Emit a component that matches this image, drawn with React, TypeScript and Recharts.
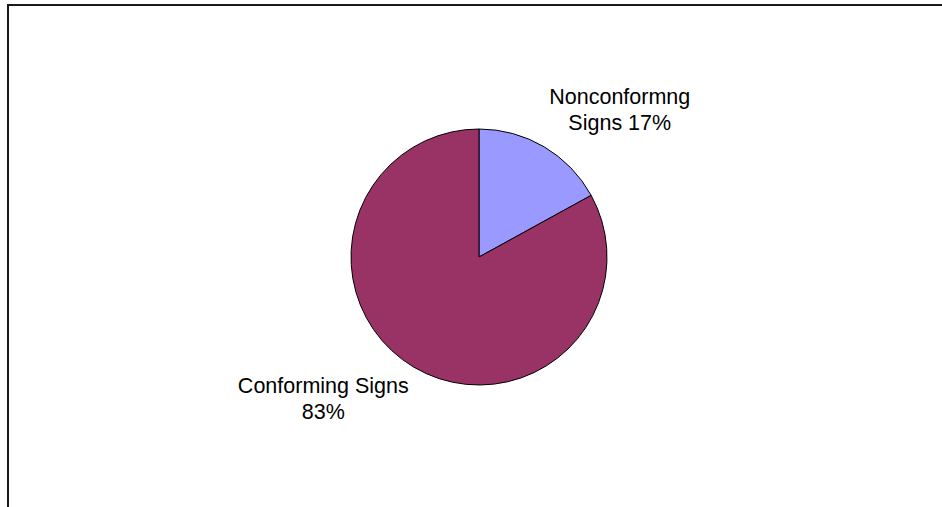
import React from "react";
import { PieChart, Pie, Cell } from "recharts";

const categories = ["Nonconformng Signs", "Conforming Signs"];
const values = [17, 83];
const labelFirstLines = ["Nonconformng", "Conforming Signs"];
const labelSecondPrefix = ["Signs ", ""];
const colors = ["#9999FF", "#993366"];

const data = categories.map((name, i) => ({ name, value: values[i] }));

const RAD = Math.PI / 180;
const FONT_SIZE = 21.5;
const FONT_FAMILY = "'Liberation Sans', Arial, sans-serif";
const LINE_GAP = 26;

let measureCtx: CanvasRenderingContext2D | null = null;
const measure = (s: string) => {
  if (!measureCtx) {
    const c = document.createElement("canvas");
    measureCtx = c.getContext("2d");
  }
  if (!measureCtx) return s.length * FONT_SIZE * 0.55;
  measureCtx.font = `${FONT_SIZE}px ${FONT_FAMILY}`;
  return measureCtx.measureText(s).width;
};

const renderLabel = (props: any) => {
  const { cx, cy, midAngle, outerRadius, percent, index } = props;
  const R = outerRadius + 10;
  const cos = Math.cos(-midAngle * RAD);
  const sin = Math.sin(-midAngle * RAD);
  const ax = cx + R * cos;
  const ay = cy + R * sin;
  const pct = Math.round(percent * 100) + "%";
  const l1 = labelFirstLines[index];
  const l2 = labelSecondPrefix[index] + pct;
  const w = Math.max(measure(l1), measure(l2));
  const x = cos >= 0 ? ax + w / 2 : ax - w / 2;
  const y1 = sin < 0 ? ay - 8 - LINE_GAP : ay + 17;
  return (
    <text
      x={x}
      y={y1}
      textAnchor="middle"
      fill="#000"
      fontFamily={FONT_FAMILY}
      fontSize={FONT_SIZE}
    >
      <tspan x={x} y={y1}>{l1}</tspan>
      <tspan x={x} y={y1 + LINE_GAP}>{l2}</tspan>
    </text>
  );
};

export default function App() {
  return (
    <div style={{ position: "absolute", left: 0, top: 0, width: 942, height: 507, background: "#fff", overflow: "hidden" }}>
      <svg width={942} height={507} style={{ position: "absolute", left: 0, top: 0 }}>
        <line x1={8} y1={5} x2={942} y2={5} stroke="#1a1a1a" strokeWidth={2} />
        <line x1={8} y1={4} x2={8} y2={507} stroke="#1a1a1a" strokeWidth={2} />
      </svg>
      <div style={{ position: "absolute", left: 0, top: 0 }}>
        <PieChart width={942} height={507} margin={{ top: 0, right: 0, bottom: 0, left: 0 }}>
          <Pie
            data={data}
            dataKey="value"
            nameKey="name"
            cx={479}
            cy={257}
            outerRadius={128}
            startAngle={90}
            endAngle={-270}
            stroke="#000"
            strokeWidth={1}
            label={renderLabel}
            labelLine={false}
            isAnimationActive={false}
          >
            {data.map((d, i) => (
              <Cell key={d.name} fill={colors[i]} />
            ))}
          </Pie>
        </PieChart>
      </div>
    </div>
  );
}
